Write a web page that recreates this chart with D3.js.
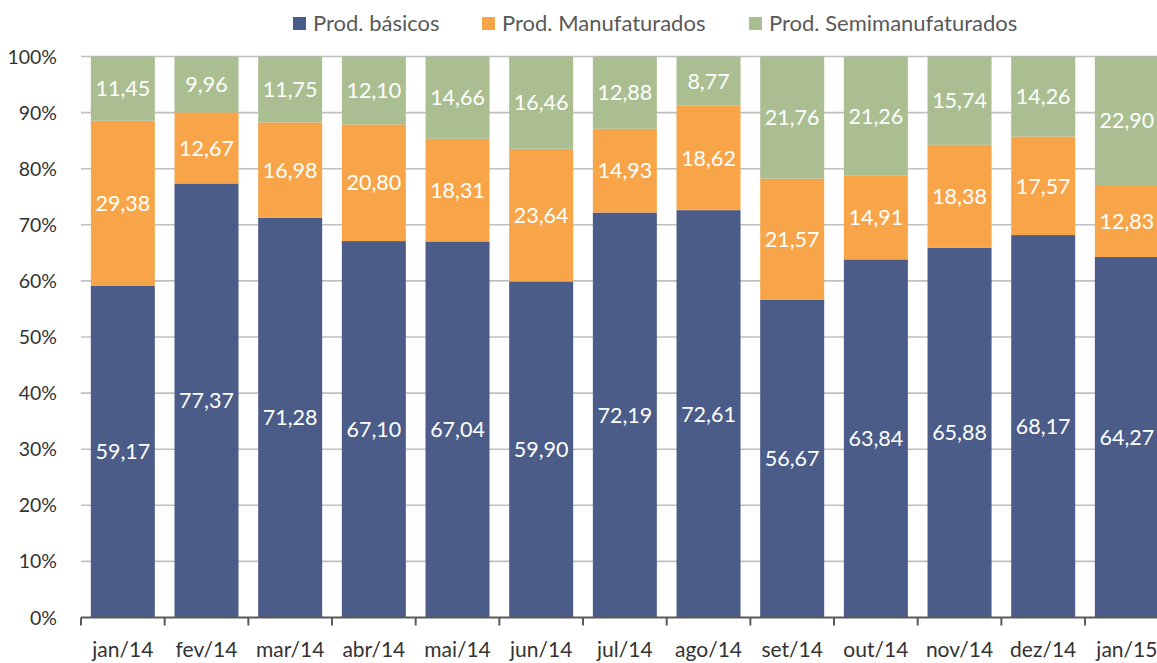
<!DOCTYPE html>
<html>
<head>
<meta charset="utf-8">
<script src="https://cdn.jsdelivr.net/npm/d3@7"></script>
<style>
  html, body { margin: 0; padding: 0; background: #fff; overflow: hidden; }
  svg { display: block; font-family: Lato, "Open Sans", sans-serif; }
</style>
</head>
<body>
<svg id="chart" width="1157" height="663"></svg>
<script>
const categories = ["jan/14","fev/14","mar/14","abr/14","mai/14","jun/14","jul/14","ago/14","set/14","out/14","nov/14","dez/14","jan/15"];
const seriesNames = ["Prod. básicos","Prod. Manufaturados","Prod. Semimanufaturados"];
const basicos = [59.17,77.37,71.28,67.10,67.04,59.90,72.19,72.61,56.67,63.84,65.88,68.17,64.27];
const manufaturados = [29.38,12.67,16.98,20.80,18.31,23.64,14.93,18.62,21.57,14.91,18.38,17.57,12.83];
const semimanufaturados = [11.45,9.96,11.75,12.10,14.66,16.46,12.88,8.77,21.76,21.26,15.74,14.26,22.90];
const yTicks = [0,0.1,0.2,0.3,0.4,0.5,0.6,0.7,0.8,0.9,1.0];
const colors = ["#4A5C87","#F8A54A","#AABE91"];

const rows = categories.map((c,i)=>({cat:c, s0:basicos[i], s1:manufaturados[i], s2:semimanufaturados[i]}));
const keys = ["s0","s1","s2"];

const svg = d3.select("#chart");
const x0 = 81, xStep = 83.67;
const x = d3.scaleBand().domain(categories)
  .range([x0, x0 + xStep*categories.length])
  .paddingInner(0.235).paddingOuter(0.1175);
const y = d3.scaleLinear().domain([0,1]).range([617.5, 56.5]);

// gridlines
svg.append("g").selectAll("line").data(yTicks.filter(t=>t>0)).join("line")
  .attr("x1", x0).attr("x2", 1157)
  .attr("y1", d=>y(d)).attr("y2", d=>y(d))
  .attr("stroke", "#C0C0C0").attr("stroke-width", 1.6);

// y labels
svg.append("g").selectAll("text").data(yTicks).join("text")
  .attr("x", 57).attr("y", d=>y(d)).attr("dy","0.36em")
  .attr("text-anchor","end").attr("font-size", 19.5).attr("fill","#333")
  .text(d=>d3.format(".0%")(d));

// stacks
const stack = d3.stack().keys(keys).offset(d3.stackOffsetExpand);
const stacked = stack(rows);

const gBars = svg.append("g");
stacked.forEach((layer, li) => {
  gBars.append("g").attr("fill", colors[li]).selectAll("rect").data(layer).join("rect")
    .attr("x", d=>x(d.data.cat))
    .attr("width", x.bandwidth())
    .attr("y", d=>y(d[1]))
    .attr("height", d=>y(d[0]) - y(d[1]));
});
// labels
stacked.forEach((layer, li) => {
  gBars.append("g").selectAll("text").data(layer).join("text")
    .attr("x", d=>x(d.data.cat) + x.bandwidth()/2)
    .attr("y", d=>y((d[0]+d[1])/2)).attr("dy","0.36em")
    .attr("text-anchor","middle").attr("font-size", 21.5).attr("fill","#fff")
    .text(d=>d3.format(".2f")(d.data[keys[li]]).replace(".", ","));
});

// x axis
const axisY = y(0);
svg.append("line").attr("x1", x0).attr("x2", 1157).attr("y1", axisY).attr("y2", axisY)
  .attr("stroke","#595959").attr("stroke-width",2.2);
const boundaries = d3.range(categories.length + 1).map(i=>x0 + i*x.step());
svg.append("g").selectAll("line").data(boundaries.filter(b=>b<1157)).join("line")
  .attr("x1", d=>d).attr("x2", d=>d).attr("y1", axisY).attr("y2", axisY+8)
  .attr("stroke","#595959").attr("stroke-width",2);
svg.append("g").selectAll("text").data(categories).join("text")
  .attr("x", d=>x(d)+x.bandwidth()/2).attr("y", 657)
  .attr("text-anchor","middle").attr("font-size", 21).attr("fill","#333")
  .text(d=>d);

// legend
const legendX = [293, 482, 749];
const lg = svg.append("g");
seriesNames.forEach((n,i)=>{
  lg.append("rect").attr("x", legendX[i]).attr("y", 17).attr("width", 13).attr("height", 13).attr("fill", colors[i]);
  lg.append("text").attr("x", legendX[i]+20).attr("y", 23.5).attr("dy","0.36em")
    .attr("font-size", 22).attr("fill","#595959").text(n);
});
</script>
</body>
</html>
